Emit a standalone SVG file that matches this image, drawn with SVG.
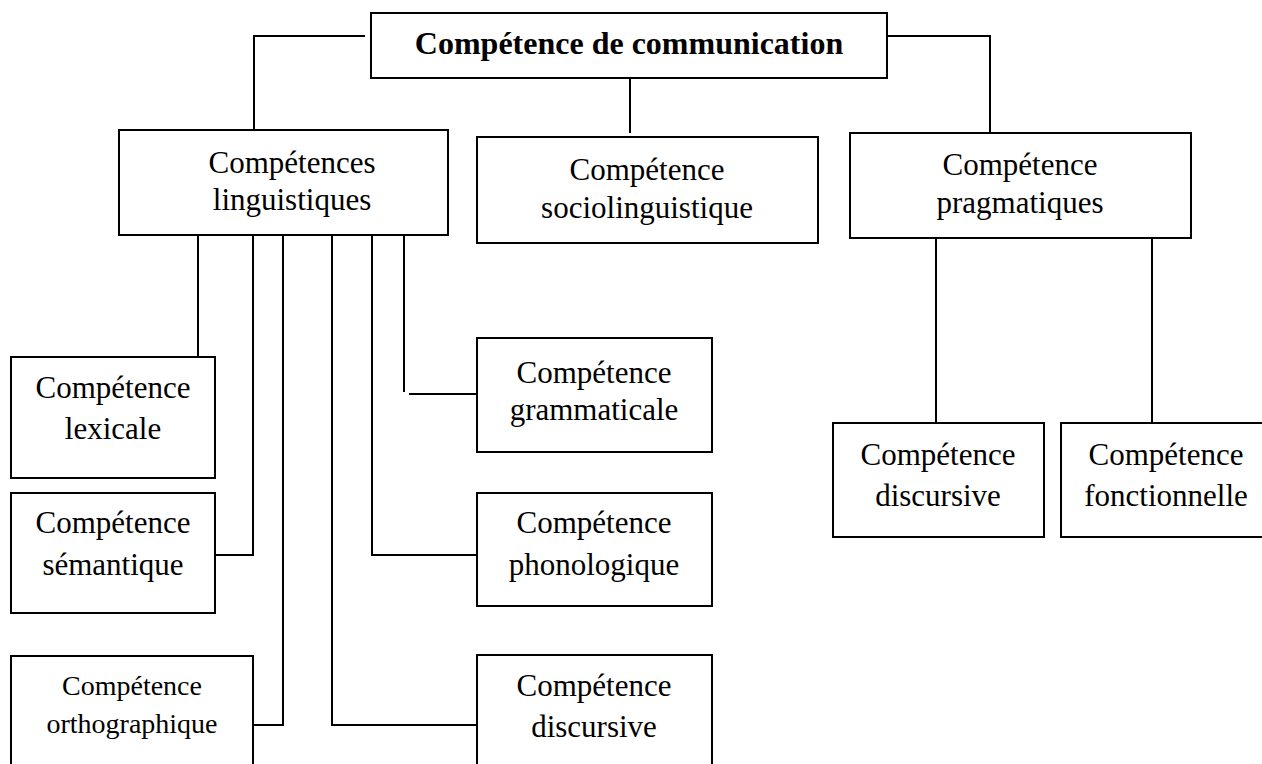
<svg xmlns="http://www.w3.org/2000/svg" width="1262" height="764" viewBox="0 0 1262 764">
<style>
.box{fill:#fff;stroke:#000;stroke-width:2}
.c{fill:none;stroke:#000;stroke-width:2}
text{font-family:"Liberation Serif","Times New Roman",serif;font-size:31px;fill:#000;text-anchor:middle}
.b{font-weight:bold;font-size:32px}
.s{font-size:28px}
</style>
<rect width="1262" height="764" fill="#fff"/>
<g id="connectors">
<polyline class="c" points="365,36 254,36 254,130"/>
<polyline class="c" points="887,36 990,36 990,133"/>
<line class="c" x1="630" y1="78" x2="630" y2="133"/>
<line class="c" x1="198" y1="235" x2="198" y2="357"/>
<polyline class="c" points="253,235 253,555 215,555"/>
<polyline class="c" points="283,235 283,725 253,725"/>
<polyline class="c" points="332,235 332,725 477,725"/>
<polyline class="c" points="372,235 372,555 477,555"/>
<line class="c" x1="404" y1="235" x2="404" y2="392"/>
<line class="c" x1="409" y1="394" x2="477" y2="394"/>
<line class="c" x1="936" y1="238" x2="936" y2="423"/>
<line class="c" x1="1152" y1="238" x2="1152" y2="423"/>
</g>
<g id="n-communication">
<rect class="box" x="371" y="13" width="516" height="65"/>
<text class="b" x="629" y="54">Compétence de communication</text>
</g>
<g id="n-linguistiques">
<rect class="box" x="119" y="130" width="329" height="105"/>
<text x="292" y="173">Compétences</text>
<text x="292" y="210">linguistiques</text>
</g>
<g id="n-sociolinguistique">
<rect class="box" x="477" y="137" width="341" height="106"/>
<text x="647" y="180">Compétence</text>
<text x="647" y="218">sociolinguistique</text>
</g>
<g id="n-pragmatiques">
<rect class="box" x="850" y="133" width="341" height="105"/>
<text x="1020" y="175">Compétence</text>
<text x="1020" y="213">pragmatiques</text>
</g>
<g id="n-lexicale">
<rect class="box" x="11" y="357" width="204" height="121"/>
<text x="113" y="398">Compétence</text>
<text x="113" y="439">lexicale</text>
</g>
<g id="n-grammaticale">
<rect class="box" x="477" y="338" width="235" height="114"/>
<text x="594" y="383">Compétence</text>
<text x="594" y="420">grammaticale</text>
</g>
<g id="n-semantique">
<rect class="box" x="11" y="493" width="204" height="120"/>
<text x="113" y="533">Compétence</text>
<text x="113" y="575">sémantique</text>
</g>
<g id="n-phonologique">
<rect class="box" x="477" y="493" width="235" height="113"/>
<text x="594" y="533">Compétence</text>
<text x="594" y="575">phonologique</text>
</g>
<g id="n-orthographique">
<rect class="box" x="11" y="656" width="242" height="120"/>
<text class="s" x="132" y="695">Compétence</text>
<text class="s" x="132" y="733">orthographique</text>
</g>
<g id="n-discursive-ling">
<rect class="box" x="477" y="655" width="235" height="120"/>
<text x="594" y="696">Compétence</text>
<text x="594" y="737">discursive</text>
</g>
<g id="n-discursive-prag">
<rect class="box" x="833" y="423" width="211" height="114"/>
<text x="938" y="465">Compétence</text>
<text x="938" y="506">discursive</text>
</g>
<g id="n-fonctionnelle">
<rect class="box" x="1061" y="423" width="210" height="114"/>
<text x="1166" y="465">Compétence</text>
<text x="1166" y="506">fonctionnelle</text>
</g>
</svg>
